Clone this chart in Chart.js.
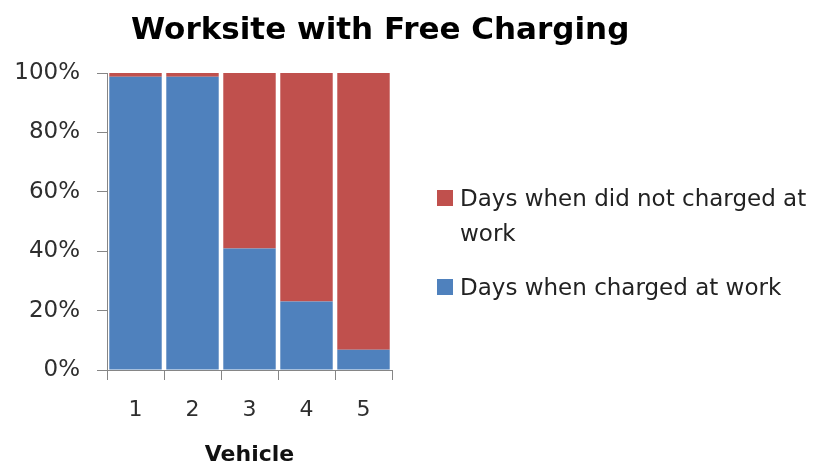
<!DOCTYPE html>
<html>
<head>
<meta charset="utf-8">
<script src="https://cdn.jsdelivr.net/npm/chart.js@4"></script>
<style>
  html, body { margin: 0; padding: 0; background: #fff; }
  #wrap { position: relative; width: 820px; height: 465px; font-family: "DejaVu Sans", sans-serif; }
  #title { position: absolute; left: 131px; top: 10px; font-size: 31px; font-weight: bold; color: #000; white-space: nowrap; }
  #legend { position: absolute; left: 437px; top: 181px; font-size: 23px; color: #222; line-height: 35px; }
  .item { position: relative; padding-left: 23px; width: 360px; }
  .item + .item { margin-top: 19px; }
  .sw { position: absolute; left: 0; top: 9px; width: 16px; height: 16px; }
  canvas { position: absolute; left: 0; top: 0; }
</style>
</head>
<body>
<div id="wrap">
  <canvas id="c" width="820" height="465"></canvas>
  <div id="title">Worksite with Free Charging</div>
  <div id="legend">
    <div class="item"><span class="sw" style="background:#c0504d"></span>Days when did not charged at work</div>
    <div class="item"><span class="sw" style="background:#4f81bd"></span>Days when charged at work</div>
  </div>
</div>
<script>
  // chart values
  const vehicles = ['1', '2', '3', '4', '5'];
  const chargedAtWork = [98.7, 98.7, 40.9, 23.1, 6.8];
  const notChargedAtWork = [1.3, 1.3, 59.1, 76.9, 93.2];
  const yTicks = [0, 20, 40, 60, 80, 100];

  const blue = '#4f81bd';
  const red = '#c0504d';
  const axisGray = '#868686';
  const textColor = '#2e2e2e';

  const data = {
    labels: vehicles,
    datasets: [
      {
        label: 'Days when charged at work',
        data: chargedAtWork,
        backgroundColor: blue
      },
      {
        label: 'Days when did not charged at work',
        data: notChargedAtWork,
        backgroundColor: red
      }
    ]
  };

  const config = {
    type: 'bar',
    data: data,
    options: {
      responsive: false,
      animation: false,
      layout: { padding: { top: 73, right: 428, left: 0, bottom: 0 } },
      datasets: { bar: { categoryPercentage: 0.92, barPercentage: 1 } },
      plugins: {
        legend: { display: false },
        title: { display: false },
        tooltip: { enabled: false }
      },
      scales: {
        x: {
          stacked: true,
          afterFit: (s) => { s.height = 95; },
          grid: { drawOnChartArea: false, drawTicks: true, tickLength: 10, color: axisGray },
          border: { color: axisGray, width: 1 },
          ticks: { color: textColor, font: { family: 'DejaVu Sans', size: 22 }, padding: 17 },
          title: {
            display: true,
            text: 'Vehicle',
            color: '#111',
            font: { family: 'DejaVu Sans', size: 22, weight: 'bold' },
            padding: { top: 6, bottom: -3 }
          }
        },
        y: {
          stacked: true,
          min: 0,
          max: 100,
          afterFit: (s) => { s.width = 107; },
          afterBuildTicks: (s) => { s.ticks = yTicks.map(v => ({ value: v })); },
          grid: { drawOnChartArea: false, drawTicks: true, tickLength: 10, color: axisGray },
          border: { color: axisGray, width: 1 },
          ticks: {
            color: textColor,
            font: { family: 'DejaVu Sans', size: 23 },
            padding: 17,
            callback: (v) => v + '%'
          }
        }
      }
    }
  };

  new Chart(document.getElementById('c'), config);
</script>
</body>
</html>
